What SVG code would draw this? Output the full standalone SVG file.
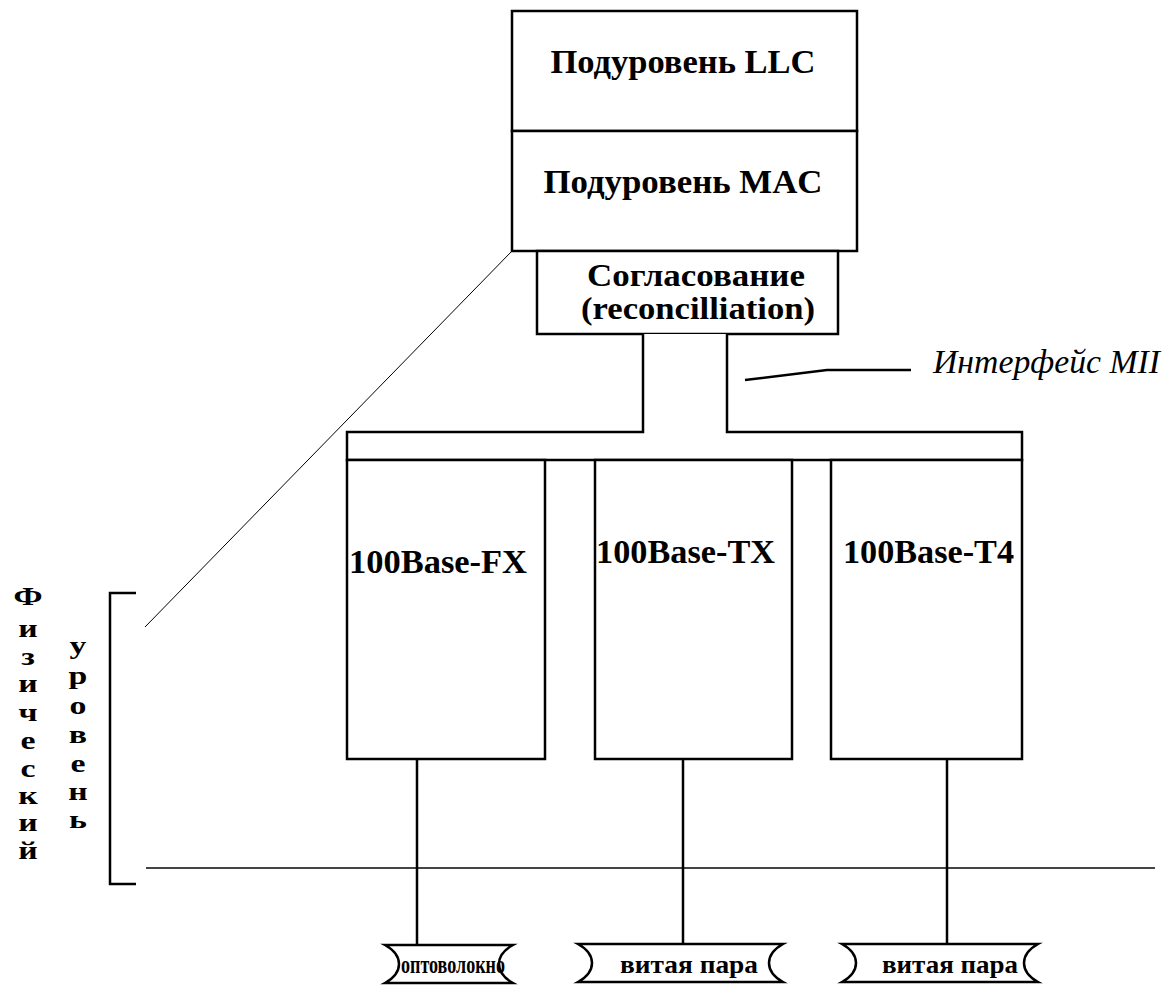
<svg xmlns="http://www.w3.org/2000/svg" width="1171" height="986" viewBox="0 0 1171 986">
<style>
.box{fill:#fff;stroke:#000;stroke-width:2.5}
.ln{fill:none;stroke:#000;stroke-width:2.5}
.thin{fill:none;stroke:#000;stroke-width:1}
.gnd{fill:none;stroke:#444;stroke-width:2}
.t{font-family:"Liberation Serif","Times New Roman",serif;font-weight:bold;fill:#000}
.big{font-size:34px}
.mid{font-size:31px}
.cab{font-size:25px}
.v{font-size:26px;text-anchor:middle}
.it{font-family:"Liberation Serif","Times New Roman",serif;font-style:italic;font-size:33px;fill:#000}
</style>
<rect width="1171" height="986" fill="#fff"/>
<g id="connectors">
<path class="thin" d="M512,251 L145,627"/>
<path class="gnd" d="M146,868 H1155"/>
<path class="ln" d="M417,759 V945 M683,759 V944 M947,759 V944"/>
<path class="ln" stroke-width="2" d="M745,380 L827,370 H911"/>
</g>
<g id="llc"><rect class="box" x="512" y="11" width="345" height="120"/>
<text class="t big" x="683" y="73" text-anchor="middle" textLength="265" lengthAdjust="spacingAndGlyphs">Подуровень LLC</text></g>
<g id="mac"><rect class="box" x="512" y="131" width="345" height="120"/>
<text class="t big" x="683" y="193" text-anchor="middle" textLength="279" lengthAdjust="spacingAndGlyphs">Подуровень MAC</text></g>
<g id="recon"><rect class="box" x="537" y="251" width="301" height="83"/>
<text class="t mid" x="696" y="286" text-anchor="middle" textLength="218" lengthAdjust="spacingAndGlyphs">Согласование</text>
<text class="t mid" x="698" y="319" text-anchor="middle" textLength="234" lengthAdjust="spacingAndGlyphs">(reconcilliation)</text></g>
<g id="mii"><path class="box" d="M643,334 V432 H347 V460 H1022 V432 H727 V334"/>
<text class="it" x="933" y="373" textLength="227" lengthAdjust="spacingAndGlyphs">Интерфейс MII</text></g>
<g id="fx"><rect class="box" x="347" y="460" width="198" height="299"/>
<text class="t big" x="349" y="573" textLength="178" lengthAdjust="spacingAndGlyphs">100Base-FX</text></g>
<g id="tx"><rect class="box" x="595" y="460" width="197" height="299"/>
<text class="t big" x="596" y="563" textLength="179" lengthAdjust="spacingAndGlyphs">100Base-TX</text></g>
<g id="t4"><rect class="box" x="831" y="460" width="191" height="299"/>
<text class="t big" x="843" y="563" textLength="171" lengthAdjust="spacingAndGlyphs">100Base-T4</text></g>
<g id="fiber"><path class="ln" stroke-width="2" d="M385,945 H513 C504,950 499,957 499,964 C499,971 504,978 513,983 H385 C394,978 399,971 399,964 C399,957 394,950 385,945 Z" fill="#fff"/>
<text class="t cab" x="401" y="973" textLength="104" lengthAdjust="spacingAndGlyphs">оптоволокно</text></g>
<g id="twisted1"><path class="ln" stroke-width="2" d="M578,944 H783 C774,949 769,956 769,963 C769,970 774,977 783,982 H578 C587,977 592,970 592,963 C592,956 587,949 578,944 Z" fill="#fff"/>
<text class="t cab" x="620" y="973" textLength="138" lengthAdjust="spacingAndGlyphs">витая пара</text></g>
<g id="twisted2"><path class="ln" stroke-width="2" d="M842,944 H1038 C1029,949 1024,956 1024,963 C1024,970 1029,977 1038,982 H842 C851,977 856,970 856,963 C856,956 851,949 842,944 Z" fill="#fff"/>
<text class="t cab" x="882" y="973" textLength="136" lengthAdjust="spacingAndGlyphs">витая пара</text></g>
<g id="phys">
<path class="ln" stroke-width="2" d="M136,593 H110 V884 H136"/>
<g transform="translate(28,0) scale(1.3,1)">
<text class="t v" x="0" y="605" font-size="28">Ф</text>
<text class="t v" x="0" y="637">и</text>
<text class="t v" x="0" y="665">з</text>
<text class="t v" x="0" y="692">и</text>
<text class="t v" x="0" y="721">ч</text>
<text class="t v" x="0" y="749">е</text>
<text class="t v" x="0" y="777">с</text>
<text class="t v" x="0" y="804">к</text>
<text class="t v" x="0" y="831">и</text>
<text class="t v" x="0" y="859">й</text>
</g>
<g transform="translate(78,0) scale(1.3,1)">
<text class="t v" x="0" y="654">у</text>
<text class="t v" x="0" y="684">р</text>
<text class="t v" x="0" y="714">о</text>
<text class="t v" x="0" y="743">в</text>
<text class="t v" x="0" y="772">е</text>
<text class="t v" x="0" y="800">н</text>
<text class="t v" x="0" y="828">ь</text>
</g>
</g>
</svg>
